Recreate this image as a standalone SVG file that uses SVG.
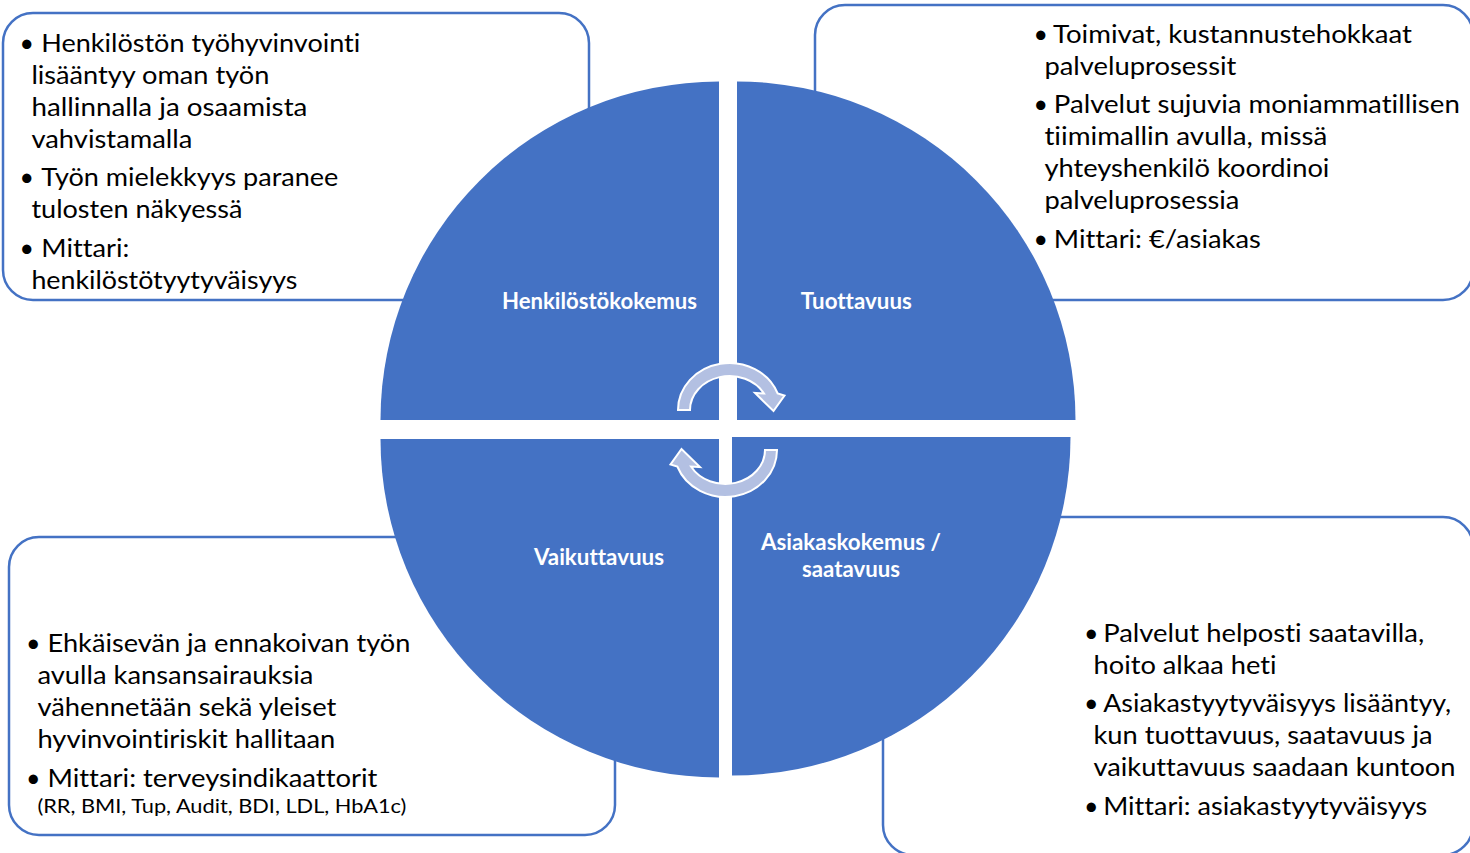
<svg xmlns="http://www.w3.org/2000/svg" width="1470" height="853" viewBox="0 0 1470 853">
<style>
.box{fill:#ffffff;stroke:#4472C4;stroke-width:2.5}
.q{fill:#4472C4}
.t{font-family:Lato,"Open Sans","Liberation Sans",sans-serif;font-size:25px;fill:#000000;font-variant-ligatures:none;font-feature-settings:"liga" 0,"dlig" 0}
.s{font-size:20px}
.lbl{font-family:Lato,"Open Sans","Liberation Sans",sans-serif;font-size:22px;font-weight:bold;fill:#ffffff;text-anchor:middle;font-variant-ligatures:none;font-feature-settings:"liga" 0}
.arr{fill:#B3C0E2;stroke:#ffffff;stroke-width:2;stroke-linejoin:miter}
</style>
<rect width="1470" height="853" fill="#ffffff"/>
<g id="box-henkilosto">
<rect class="box" x="3" y="13" width="586" height="287" rx="30"/>
<text class="t" y="51.7"><tspan x="19.5">•</tspan><tspan x="41.3" textLength="319" lengthAdjust="spacingAndGlyphs">Henkilöstön työhyvinvointi</tspan></text>
<text class="t" x="31.4" y="83.7" textLength="238" lengthAdjust="spacingAndGlyphs">lisääntyy oman työn</text>
<text class="t" x="31.4" y="115.7" textLength="276" lengthAdjust="spacingAndGlyphs">hallinnalla ja osaamista</text>
<text class="t" x="31.4" y="147.7" textLength="161" lengthAdjust="spacingAndGlyphs">vahvistamalla</text>
<text class="t" y="186.2"><tspan x="19.5">•</tspan><tspan x="41.3" textLength="297" lengthAdjust="spacingAndGlyphs">Työn mielekkyys paranee</tspan></text>
<text class="t" x="31.4" y="218.2" textLength="211" lengthAdjust="spacingAndGlyphs">tulosten näkyessä</text>
<text class="t" y="256.7"><tspan x="19.5">•</tspan><tspan x="41.3" textLength="88" lengthAdjust="spacingAndGlyphs">Mittari:</tspan></text>
<text class="t" x="31.4" y="288.7" textLength="266" lengthAdjust="spacingAndGlyphs">henkilöstötyytyväisyys</text>
</g>
<g id="box-tuottavuus">
<rect class="box" x="815" y="5" width="658" height="295" rx="30"/>
<text class="t" y="43.3"><tspan x="1033.5">•</tspan><tspan x="1053" textLength="359" lengthAdjust="spacingAndGlyphs">Toimivat, kustannustehokkaat</tspan></text>
<text class="t" x="1044.4" y="75.3" textLength="192" lengthAdjust="spacingAndGlyphs">palveluprosessit</text>
<text class="t" y="113.3"><tspan x="1033.5">•</tspan><tspan x="1053.8" textLength="406" lengthAdjust="spacingAndGlyphs">Palvelut sujuvia moniammatillisen</tspan></text>
<text class="t" x="1044.4" y="145.3" textLength="283" lengthAdjust="spacingAndGlyphs">tiimimallin avulla, missä</text>
<text class="t" x="1044.4" y="177.3" textLength="285" lengthAdjust="spacingAndGlyphs">yhteyshenkilö koordinoi</text>
<text class="t" x="1044.4" y="209.3" textLength="195" lengthAdjust="spacingAndGlyphs">palveluprosessia</text>
<text class="t" y="247.8"><tspan x="1033.5">•</tspan><tspan x="1053.8" textLength="207" lengthAdjust="spacingAndGlyphs">Mittari: €/asiakas</tspan></text>
</g>
<g id="box-vaikuttavuus">
<rect class="box" x="9" y="537" width="606" height="298" rx="30"/>
<text class="t" y="651.7"><tspan x="26">•</tspan><tspan x="47.4" textLength="363" lengthAdjust="spacingAndGlyphs">Ehkäisevän ja ennakoivan työn</tspan></text>
<text class="t" x="37.4" y="683.7" textLength="276" lengthAdjust="spacingAndGlyphs">avulla kansansairauksia</text>
<text class="t" x="37.4" y="715.7" textLength="299" lengthAdjust="spacingAndGlyphs">vähennetään sekä yleiset</text>
<text class="t" x="37.4" y="747.7" textLength="298" lengthAdjust="spacingAndGlyphs">hyvinvointiriskit hallitaan</text>
<text class="t" y="786.5"><tspan x="26">•</tspan><tspan x="47.4" textLength="330" lengthAdjust="spacingAndGlyphs">Mittari: terveysindikaattorit</tspan></text>
<text class="t s" x="37.4" y="813.3" textLength="369" lengthAdjust="spacingAndGlyphs">(RR, BMI, Tup, Audit, BDI, LDL, HbA1c)</text>
</g>
<g id="box-asiakaskokemus">
<rect class="box" x="883" y="517" width="590" height="338" rx="30"/>
<text class="t" y="641.7"><tspan x="1084">•</tspan><tspan x="1103.2" textLength="321" lengthAdjust="spacingAndGlyphs">Palvelut helposti saatavilla,</tspan></text>
<text class="t" x="1093.5" y="673.7" textLength="183" lengthAdjust="spacingAndGlyphs">hoito alkaa heti</text>
<text class="t" y="712.2"><tspan x="1084">•</tspan><tspan x="1103.2" textLength="348" lengthAdjust="spacingAndGlyphs">Asiakastyytyväisyys lisääntyy,</tspan></text>
<text class="t" x="1093.5" y="744.2" textLength="339" lengthAdjust="spacingAndGlyphs">kun tuottavuus, saatavuus ja</text>
<text class="t" x="1093.5" y="776.2" textLength="362" lengthAdjust="spacingAndGlyphs">vaikuttavuus saadaan kuntoon</text>
<text class="t" y="814.7"><tspan x="1084">•</tspan><tspan x="1103.2" textLength="324" lengthAdjust="spacingAndGlyphs">Mittari: asiakastyytyväisyys</tspan></text>
</g>
<g id="q-henkilostokokemus">
<path class="q" d="M 719 420 L 380.5 420 A 338.5 338.5 0 0 1 719 81.5 Z"/>
<text class="lbl" x="599.5" y="308.5" textLength="195" lengthAdjust="spacingAndGlyphs">Henkilöstökokemus</text>
</g>
<g id="q-tuottavuus">
<path class="q" d="M 737 420 L 737 81.5 A 338.5 338.5 0 0 1 1075.5 420 Z"/>
<text class="lbl" x="856.3" y="308.5" textLength="111" lengthAdjust="spacingAndGlyphs">Tuottavuus</text>
</g>
<g id="q-vaikuttavuus">
<path class="q" d="M 719 439 L 719 777.5 A 338.5 338.5 0 0 1 380.5 439 Z"/>
<text class="lbl" x="599" y="565" textLength="130" lengthAdjust="spacingAndGlyphs">Vaikuttavuus</text>
</g>
<g id="q-asiakaskokemus">
<path class="q" d="M 732 437 L 1070.5 437 A 338.5 338.5 0 0 1 732 775.5 Z"/>
<text class="lbl" x="851" y="549.5" textLength="180" lengthAdjust="spacingAndGlyphs">Asiakaskokemus /</text>
<text class="lbl" x="851" y="576.5" textLength="98" lengthAdjust="spacingAndGlyphs">saatavuus</text>
</g>
<g id="connectors">
<path class="arr" d="M 678 410 A 51.5 47 0 0 1 777.7 393.5 L 784.5 395.5 L 773.5 411 L 755 393 L 764 393.5 A 39.5 34 0 0 0 690 410 Z"/>
<path class="arr" transform="rotate(180 727.5 430)" d="M 678 410 A 51.5 47 0 0 1 777.7 393.5 L 784.5 395.5 L 773.5 411 L 755 393 L 764 393.5 A 39.5 34 0 0 0 690 410 Z"/>
</g>
</svg>
